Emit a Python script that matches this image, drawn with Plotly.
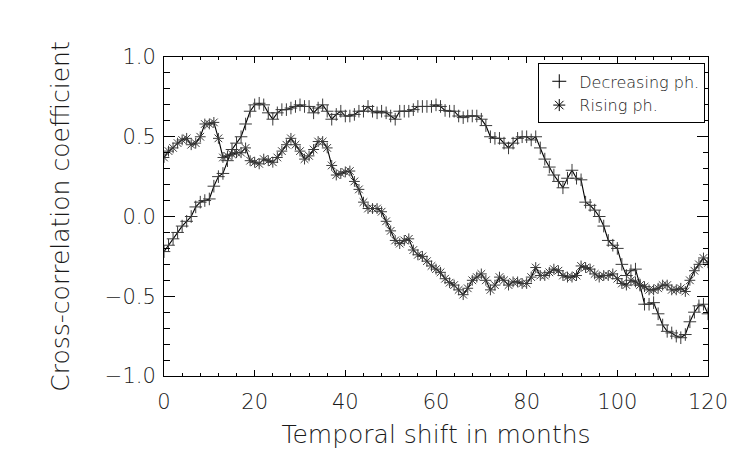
import plotly.graph_objects as go

months = list(range(0, 121))

decreasing = [
    -0.22, -0.18, -0.14, -0.10, -0.06, -0.03, 0.00, 0.06, 0.09, 0.10,
    0.11, 0.19, 0.25, 0.27, 0.35, 0.42, 0.46, 0.50, 0.58, 0.66,
    0.70, 0.71, 0.70, 0.65, 0.61, 0.65, 0.67, 0.67, 0.68, 0.69,
    0.70, 0.69, 0.69, 0.65, 0.68, 0.70, 0.66, 0.61, 0.64, 0.66,
    0.63, 0.63, 0.64, 0.66, 0.66, 0.69, 0.66, 0.65, 0.66, 0.65,
    0.63, 0.61, 0.66, 0.66, 0.66, 0.67, 0.69, 0.69, 0.69, 0.69,
    0.70, 0.69, 0.665, 0.66, 0.66, 0.63, 0.62, 0.63, 0.63, 0.63,
    0.61, 0.57, 0.50, 0.49, 0.49, 0.46, 0.43, 0.46, 0.49, 0.50,
    0.50, 0.48, 0.50, 0.43, 0.36, 0.31, 0.26, 0.22, 0.18, 0.24,
    0.29, 0.24, 0.23, 0.09, 0.07, 0.04, 0.00, -0.06, -0.15, -0.18,
    -0.20, -0.30, -0.37, -0.34, -0.33, -0.43, -0.55, -0.55, -0.54, -0.61,
    -0.68, -0.72, -0.73, -0.75, -0.76, -0.74, -0.66, -0.60, -0.56, -0.55,
    -0.61,
]

rising = [
    0.37, 0.41, 0.43, 0.46, 0.48, 0.49, 0.45, 0.46, 0.50, 0.58,
    0.58, 0.59, 0.49, 0.37, 0.38, 0.39, 0.40, 0.40, 0.43, 0.35,
    0.34, 0.33, 0.36, 0.35, 0.34, 0.37, 0.41, 0.45, 0.49, 0.45,
    0.41, 0.36, 0.38, 0.42, 0.47, 0.47, 0.43, 0.32, 0.26, 0.27,
    0.28, 0.285, 0.22, 0.17, 0.09, 0.05, 0.05, 0.05, 0.03, -0.03,
    -0.09, -0.15, -0.17, -0.15, -0.14, -0.21, -0.24, -0.25, -0.28, -0.31,
    -0.33, -0.35, -0.39, -0.415, -0.43, -0.46, -0.49, -0.45, -0.40, -0.38,
    -0.36, -0.40, -0.46, -0.43, -0.38, -0.40, -0.43, -0.41, -0.41, -0.42,
    -0.42, -0.38, -0.32, -0.37, -0.37, -0.35, -0.33, -0.34, -0.37, -0.38,
    -0.38, -0.37, -0.31, -0.32, -0.33, -0.36, -0.38, -0.37, -0.37, -0.36,
    -0.39, -0.42, -0.43, -0.40, -0.41, -0.43, -0.44, -0.46, -0.46, -0.45,
    -0.43, -0.43, -0.46, -0.46, -0.45, -0.47, -0.40, -0.34, -0.30, -0.26,
    -0.29,
]

series_names = ["Decreasing ph.", "Rising ph."]

FONT = "DejaVu Sans"
TXT = "#1a1a1a"
MK = "#3a3a3a"

fig = go.Figure()

fig.add_trace(go.Scatter(
    x=months, y=decreasing, mode="lines+markers", showlegend=False,
    line=dict(color="black", width=1.1),
    marker=dict(symbol="cross-thin", size=9, color=MK,
                line=dict(color=MK, width=1)),
))
fig.add_trace(go.Scatter(
    x=months, y=rising, mode="lines+markers", showlegend=False,
    line=dict(color="black", width=1.1),
    marker=dict(symbol="asterisk", size=9, color=MK,
                line=dict(color=MK, width=1)),
))
# legend-only entries (symbols without line)
fig.add_trace(go.Scatter(
    x=[None], y=[None], mode="markers", name=series_names[0],
    marker=dict(symbol="cross-thin", size=10, color="black",
                line=dict(color="black", width=1)),
))
fig.add_trace(go.Scatter(
    x=[None], y=[None], mode="markers", name=series_names[1],
    marker=dict(symbol="asterisk", size=10, color="black",
                line=dict(color="black", width=1)),
))

fig.update_layout(
    width=747, height=467,
    margin=dict(l=156, r=47, t=49, b=99),
    paper_bgcolor="white", plot_bgcolor="white",
    font=dict(family=FONT, size=21, color=TXT, weight=200),
    legend=dict(
        x=0.995, xanchor="right", y=0.98, yanchor="top",
        bgcolor="white", bordercolor="black", borderwidth=1,
        font=dict(family=FONT, size=16, color=TXT, weight=200),
        tracegroupgap=0, itemwidth=30,
    ),
    xaxis=dict(
        range=[0, 120], tick0=0, dtick=20,
        showline=True, linecolor="black", linewidth=1, mirror="ticks",
        ticks="inside", ticklen=6, tickcolor="black", tickwidth=1,
        minor=dict(dtick=4, ticks="inside", ticklen=3, tickcolor="black", tickwidth=1),
        showgrid=False, zeroline=False,
        title=dict(text="Temporal shift in months", standoff=12),
        ticklabelstandoff=7,
    ),
    yaxis=dict(
        range=[-1, 1], tick0=0, dtick=0.5, tickformat=".1f",
        showline=True, linecolor="black", linewidth=1, mirror="ticks",
        ticks="inside", ticklen=11, tickcolor="black", tickwidth=1,
        minor=dict(dtick=0.1, ticks="inside", ticklen=5.5, tickcolor="black", tickwidth=1),
        showgrid=False, zeroline=False,
        title=dict(text="Cross-correlation coefficient", standoff=28),
        ticklabelstandoff=3,
    ),
)

fig.write_html("out.html")
